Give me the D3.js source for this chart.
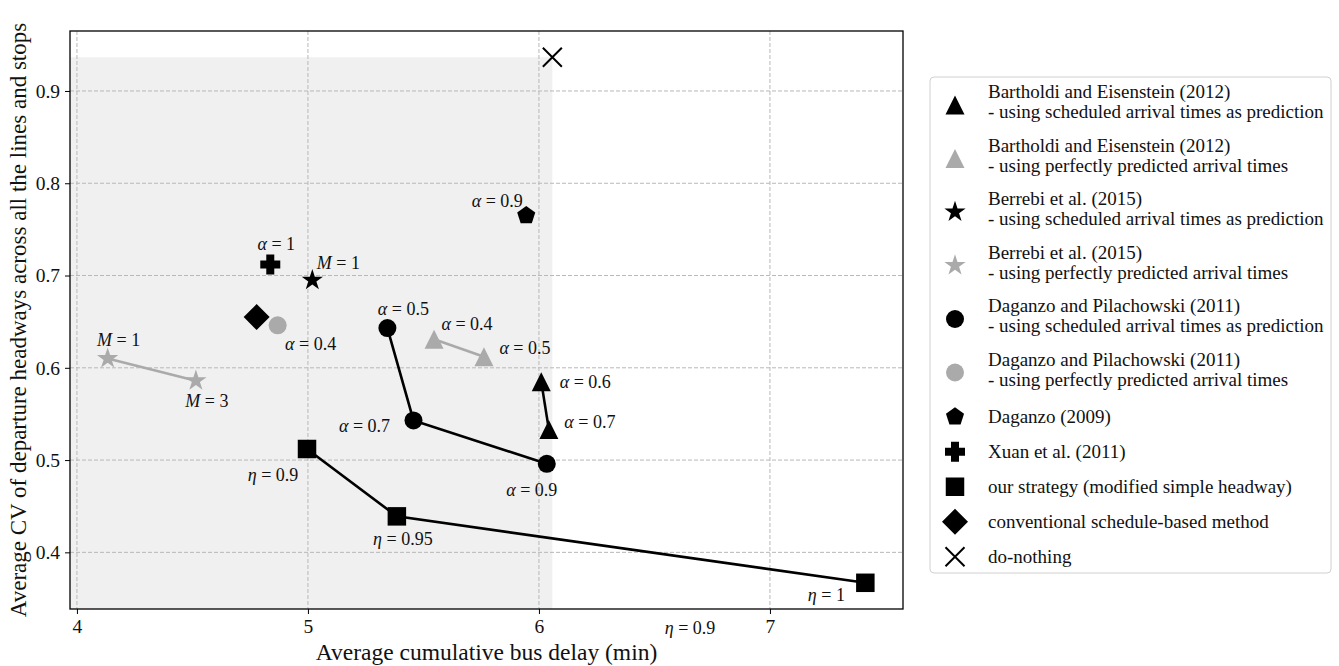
<!DOCTYPE html>
<html>
<head>
<meta charset="utf-8">
<script src="https://cdn.jsdelivr.net/npm/d3@7"></script>
<style>
body { margin: 0; background: white; }
svg text { font-family: "Liberation Serif", "Times New Roman", serif; fill: #111; }
</style>
</head>
<body>
<div id="canvas"></div>
<script>
"use strict"

/* Configuration variables: drawing */
let svgWidth = 1339;
let svgHeight = 666;
let plot = {left: 70, right: 903, top: 31, bottom: 609};
let grey = "#aaaaaa";

/* Data: [avg cumulative delay (min), avg CV of headways, parameter value] */
let xTicks = [4, 5, 6, 7];
let yTicks = [0.4, 0.5, 0.6, 0.7, 0.8, 0.9];

let barthSched = [[6.010, 0.585, "0.6"], [6.043, 0.533, "0.7"]];
let barthPerfect = [[5.546, 0.631, "0.4"], [5.762, 0.612, "0.5"]];
let berrebiSched = [[5.019, 0.695, "1"]];
let berrebiPerfect = [[4.133, 0.610, "1"], [4.515, 0.586, "3"]];
let dagPilSched = [[5.344, 0.643, "0.5"], [5.457, 0.543, "0.7"], [6.034, 0.496, "0.9"]];
let dagPilPerfect = [[4.869, 0.646, "0.4"]];
let daganzo2009 = [[5.945, 0.765, "0.9"]];
let xuan2011 = [[4.837, 0.712, "1"]];
let ourStrategy = [[4.996, 0.512, "0.9"], [5.385, 0.439, "0.95"], [7.413, 0.367, "1"]];
let conventional = [[4.778, 0.655, null]];
let doNothing = [[6.058, 0.9365, null]];
let strayLabel = [[6.654, 0.318, "0.9"]];

let legendNames = [
    ["Bartholdi and Eisenstein (2012)", "- using scheduled arrival times as prediction"],
    ["Bartholdi and Eisenstein (2012)", "- using perfectly predicted arrival times"],
    ["Berrebi et al. (2015)", "- using scheduled arrival times as prediction"],
    ["Berrebi et al. (2015)", "- using perfectly predicted arrival times"],
    ["Daganzo and Pilachowski (2011)", "- using scheduled arrival times as prediction"],
    ["Daganzo and Pilachowski (2011)", "- using perfectly predicted arrival times"],
    ["Daganzo (2009)"],
    ["Xuan et al. (2011)"],
    ["our strategy (modified simple headway)"],
    ["conventional schedule-based method"],
    ["do-nothing"]
];

/* Custom marker shapes (size = half width squared) */
let triangleUp = {draw: function (c, size) {
    let r = Math.sqrt(size);
    c.moveTo(0, -r); c.lineTo(r, r); c.lineTo(-r, r); c.closePath();
}};
let diamond = {draw: function (c, size) {
    let r = Math.sqrt(size);
    c.moveTo(0, -r); c.lineTo(r, 0); c.lineTo(0, r); c.lineTo(-r, 0); c.closePath();
}};
let plusFat = {draw: function (c, size) {
    let r = Math.sqrt(size), a = r * 0.4;
    c.moveTo(-a, -r); c.lineTo(a, -r); c.lineTo(a, -a); c.lineTo(r, -a); c.lineTo(r, a);
    c.lineTo(a, a); c.lineTo(a, r); c.lineTo(-a, r); c.lineTo(-a, a); c.lineTo(-r, a);
    c.lineTo(-r, -a); c.lineTo(-a, -a); c.closePath();
}};
let pentagon = {draw: function (c, size) {
    let r = Math.sqrt(size);
    for (let i = 0; i < 5; i++) {
        let t = -Math.PI / 2 + i * 2 * Math.PI / 5;
        if (i === 0) c.moveTo(r * Math.cos(t), r * Math.sin(t));
        else c.lineTo(r * Math.cos(t), r * Math.sin(t));
    }
    c.closePath();
}};
let cross = {draw: function (c, size) {
    let r = Math.sqrt(size);
    c.moveTo(-r, -r); c.lineTo(r, r); c.moveTo(-r, r); c.lineTo(r, -r);
}};

let shapes = {
    triangle: d3.symbol().type(triangleUp).size(9.5 * 9.5),
    star: d3.symbol().type(d3.symbolStar).size(140),
    circle: d3.symbol().type(d3.symbolCircle).size(Math.PI * 9 * 9),
    pentagon: d3.symbol().type(pentagon).size(9.5 * 9.5),
    plus: d3.symbol().type(plusFat).size(10 * 10),
    square: d3.symbol().type(d3.symbolSquare).size(18.5 * 18.5),
    diamond: d3.symbol().type(diamond).size(13 * 13),
    cross: d3.symbol().type(cross).size(9.5 * 9.5)
};

/* One entry per series, in legend order; offsets place each label from its marker */
let series = [
    {data: barthSched, shape: "triangle", color: "black", param: "α", line: true,
        offsets: [[44, 0], [41, -8]]},
    {data: barthPerfect, shape: "triangle", color: grey, param: "α", line: true,
        offsets: [[33, -15], [41, -9]]},
    {data: berrebiSched, shape: "star", color: "black", param: "M", line: false,
        offsets: [[26, -17]]},
    {data: berrebiPerfect, shape: "star", color: grey, param: "M", line: true,
        offsets: [[11, -19], [11, 20]]},
    {data: dagPilSched, shape: "circle", color: "black", param: "α", line: true,
        offsets: [[16, -19], [-49, 6], [-15, 26]]},
    {data: dagPilPerfect, shape: "circle", color: grey, param: "α", line: false,
        offsets: [[33, 19]]},
    {data: daganzo2009, shape: "pentagon", color: "black", param: "α", line: false,
        offsets: [[-29, -15]]},
    {data: xuan2011, shape: "plus", color: "black", param: "α", line: false,
        offsets: [[6, -20]]},
    {data: ourStrategy, shape: "square", color: "black", param: "η", line: true,
        offsets: [[-34, 26], [6, 23], [-39, 12]]},
    {data: conventional, shape: "diamond", color: "black", param: null, line: false,
        offsets: []},
    {data: doNothing, shape: "cross", color: "black", param: null, line: false,
        offsets: []}
];

/* Create drawing canvas */
let svg = d3.select("#canvas")
    .append("svg")
    .attr("width", svgWidth)
    .attr("height", svgHeight);

let xScale = d3.scaleLinear()
    .domain([3.97, 7.576])
    .range([plot.left, plot.right]);

let yScale = d3.scaleLinear()
    .domain([0.3386, 0.965])
    .range([plot.bottom, plot.top]);

/* Grey region: everything that beats do-nothing on both axes */
svg.append("rect")
    .attr("x", plot.left)
    .attr("y", yScale(doNothing[0][1]))
    .attr("width", xScale(doNothing[0][0]) - plot.left)
    .attr("height", plot.bottom - yScale(doNothing[0][1]))
    .attr("fill", "#f0f0f0");

/* Dashed grid */
svg.append("g")
    .selectAll("line")
    .data(xTicks)
    .join("line")
    .attr("x1", d => xScale(d))
    .attr("x2", d => xScale(d))
    .attr("y1", plot.top)
    .attr("y2", plot.bottom)
    .attr("stroke", "#b8b8b8")
    .attr("stroke-dasharray", "4,2");

svg.append("g")
    .selectAll("line")
    .data(yTicks)
    .join("line")
    .attr("x1", plot.left)
    .attr("x2", plot.right)
    .attr("y1", d => yScale(d))
    .attr("y2", d => yScale(d))
    .attr("stroke", "#b8b8b8")
    .attr("stroke-dasharray", "4,2");

/* Axes */
let xAxis = svg.append("g")
    .attr("transform", "translate(0," + plot.bottom + ")")
    .call(d3.axisBottom(xScale).tickValues(xTicks).tickFormat(d3.format("d")).tickSize(5).tickPadding(5));

let yAxis = svg.append("g")
    .attr("transform", "translate(" + plot.left + ",0)")
    .call(d3.axisLeft(yScale).tickValues(yTicks).tickFormat(d3.format(".1f")).tickSize(5).tickPadding(5));

[xAxis, yAxis].forEach(function (ax) {
    ax.select(".domain").remove();
    ax.selectAll("line").attr("stroke", "black").attr("stroke-width", 1);
    ax.selectAll("text")
        .attr("font-family", "Liberation Serif, serif")
        .attr("font-size", 19.5)
        .attr("fill", "#111");
});

/* Connecting lines */
let line = d3.line()
    .x(d => xScale(d[0]))
    .y(d => yScale(d[1]));

series.filter(s => s.line).forEach(function (s) {
    svg.append("path")
        .attr("d", line(s.data))
        .attr("fill", "none")
        .attr("stroke", s.color)
        .attr("stroke-width", 2.6);
});

/* Markers */
series.forEach(function (s) {
    svg.append("g")
        .selectAll("path")
        .data(s.data)
        .join("path")
        .attr("transform", d => "translate(" + xScale(d[0]) + "," + yScale(d[1]) + ")")
        .attr("d", shapes[s.shape]())
        .attr("fill", s.shape === "cross" ? "none" : s.color)
        .attr("stroke", s.shape === "cross" ? s.color : "none")
        .attr("stroke-width", 2);
});

/* Parameter labels, e.g. "α = 0.5" */
function paramLabel(sel, param, value) {
    sel.append("tspan").attr("font-style", "italic").text(param);
    sel.append("tspan").text(" = " + value);
}

series.forEach(function (s) {
    s.data.forEach(function (d, i) {
        if (s.param === null) return;
        let t = svg.append("text")
            .attr("x", xScale(d[0]) + s.offsets[i][0])
            .attr("y", yScale(d[1]) + s.offsets[i][1])
            .attr("text-anchor", "middle")
            .attr("dominant-baseline", "central")
            .attr("font-size", 18);
        paramLabel(t, s.param, d[2]);
    });
});

strayLabel.forEach(function (d) {
    let t = svg.append("text")
        .attr("x", xScale(d[0]))
        .attr("y", yScale(d[1]))
        .attr("text-anchor", "middle")
        .attr("dominant-baseline", "central")
        .attr("font-size", 18);
    paramLabel(t, "η", d[2]);
});

/* Frame */
svg.append("rect")
    .attr("x", plot.left)
    .attr("y", plot.top)
    .attr("width", plot.right - plot.left)
    .attr("height", plot.bottom - plot.top)
    .attr("fill", "none")
    .attr("stroke", "black")
    .attr("stroke-width", 1.3);

/* Axis titles */
svg.append("text")
    .attr("x", (plot.left + plot.right) / 2)
    .attr("y", 660)
    .attr("text-anchor", "middle")
    .attr("font-size", 23.5)
    .text("Average cumulative bus delay (min)");

svg.append("text")
    .attr("transform", "translate(26," + (plot.top + plot.bottom) / 2 + ") rotate(-90)")
    .attr("text-anchor", "middle")
    .attr("font-size", 23)
    .text("Average CV of departure headways across all the lines and stops");

/* Legend */
let legendX = 930, legendY = 77;
svg.append("rect")
    .attr("x", legendX)
    .attr("y", legendY)
    .attr("width", 401)
    .attr("height", 496)
    .attr("rx", 4)
    .attr("fill", "white")
    .attr("stroke", "#d0d0d0");

let cy = 105;
series.forEach(function (s, i) {
    let names = legendNames[i];
    if (i > 0) {
        let prev = legendNames[i - 1].length === 2 ? 53.5 : 35;
        let cur = names.length === 2 ? 53.5 : 35;
        cy += (prev + cur) / 2;
    }
    svg.append("path")
        .attr("transform", "translate(955," + cy + ")")
        .attr("d", shapes[s.shape]())
        .attr("fill", s.shape === "cross" ? "none" : s.color)
        .attr("stroke", s.shape === "cross" ? s.color : "none")
        .attr("stroke-width", 2);
    if (names.length === 2) {
        svg.append("text").attr("x", 988).attr("y", cy - 7).attr("font-size", 19).text(names[0]);
        svg.append("text").attr("x", 988).attr("y", cy + 13).attr("font-size", 19).text(names[1]);
    } else {
        svg.append("text").attr("x", 988).attr("y", cy + 6).attr("font-size", 19).text(names[0]);
    }
});
</script>
</body>
</html>
